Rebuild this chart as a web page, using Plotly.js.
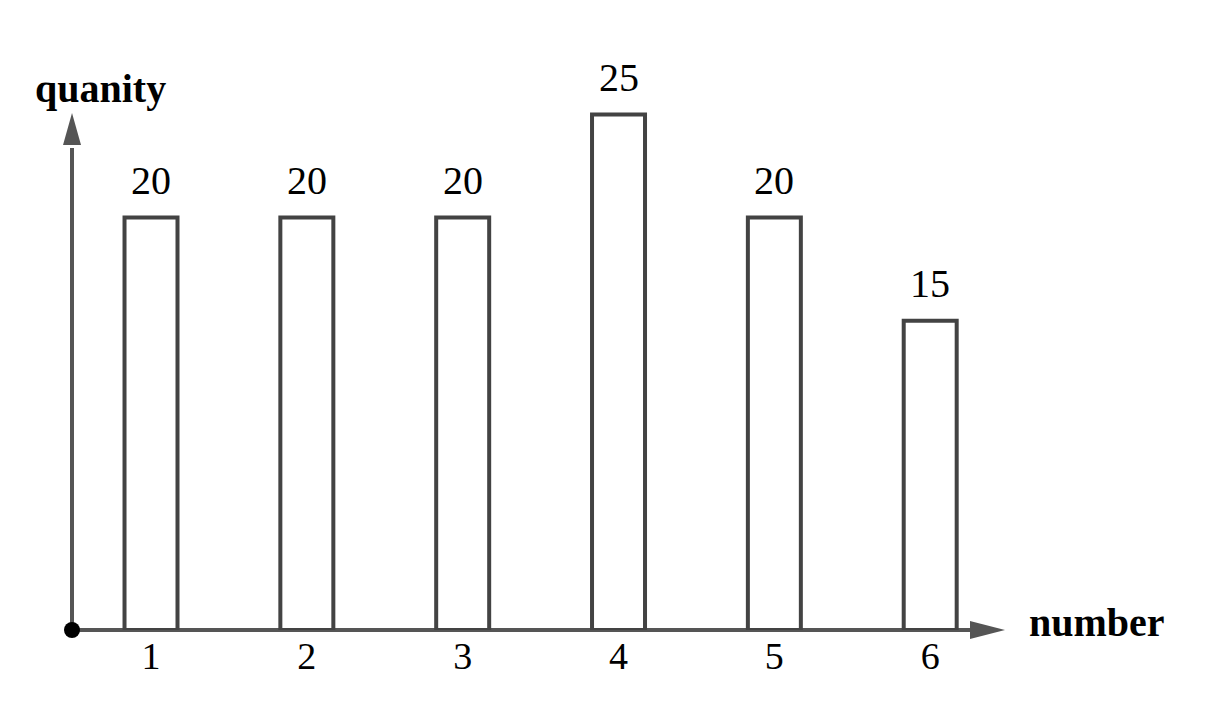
<!DOCTYPE html>
<html>
<head>
<meta charset="utf-8">
<script src="https://cdn.plot.ly/plotly-3.0.1.min.js"></script>
<style>html,body{margin:0;padding:0;background:#fff;}#chart{width:1216px;height:716px;}</style>
</head>
<body>
<div id="chart"></div>
<script>
var categories = [1, 2, 3, 4, 5, 6];
var tickLabels = ['1', '2', '3', '4', '5', '6'];
var quantities = [20, 20, 20, 25, 20, 15];
var xTitle = 'number';
var yTitle = 'quanity';

var FONT = 'Liberation Serif, DejaVu Serif, serif';
var W = 1216, H = 716;
var ml = 72, mr = 211, mt = 30, mb = 86;
var pw = W - ml - mr, ph = H - mt - mb;
function px(p) { return p / pw; }
function py(p) { return p / ph; }

var trace = {
  type: 'bar',
  x: categories,
  y: quantities,
  width: 0.34,
  marker: { color: 'rgba(255,255,255,0)', line: { color: '#434343', width: 4 } },
  hoverinfo: 'skip',
  cliponaxis: false
};

var annotations = categories.map(function (c, i) {
  return {
    x: c, y: quantities[i], xref: 'x', yref: 'y',
    text: String(quantities[i]), showarrow: false,
    yanchor: 'bottom', yshift: 13,
    font: { family: FONT, size: 40, color: '#000' }
  };
});
annotations.push({
  xref: 'paper', yref: 'paper', x: px(1097 - ml), y: py(630 - 622),
  text: xTitle, showarrow: false, xanchor: 'center', yanchor: 'middle',
  font: { family: FONT, size: 40, color: '#000', weight: 'bold' }
});
annotations.push({
  xref: 'paper', yref: 'paper', x: px(100 - ml), y: py(630 - 88),
  text: yTitle, showarrow: false, xanchor: 'center', yanchor: 'middle',
  font: { family: FONT, size: 40, color: '#000', weight: 'bold' }
});

var axisColor = '#555555';
var shapes = [
  { type: 'line', xref: 'paper', yref: 'paper', x0: 0, y0: 0, x1: px(975 - ml), y1: 0,
    line: { color: axisColor, width: 4 }, layer: 'below' },
  { type: 'path', xref: 'paper', yref: 'paper',
    path: 'M ' + px(970 - ml) + ' ' + py(9) + ' L ' + px(1005 - ml) + ' 0 L ' + px(970 - ml) + ' ' + (-py(9)) + ' Z',
    fillcolor: axisColor, line: { width: 0 }, layer: 'below' },
  { type: 'line', xref: 'paper', yref: 'paper', x0: 0, y0: 0, x1: 0, y1: py(630 - 148),
    line: { color: axisColor, width: 4 }, layer: 'below' },
  { type: 'path', xref: 'paper', yref: 'paper',
    path: 'M ' + (-px(9)) + ' ' + py(630 - 145) + ' L 0 ' + py(630 - 113) + ' L ' + px(9) + ' ' + py(630 - 145) + ' Z',
    fillcolor: axisColor, line: { width: 0 }, layer: 'below' },
  { type: 'circle', xref: 'paper', yref: 'paper',
    x0: -px(8), x1: px(8), y0: -py(8), y1: py(8),
    fillcolor: '#000', line: { width: 0 }, layer: 'above' }
];

var layout = {
  width: W, height: H,
  margin: { l: ml, r: mr, t: mt, b: mb, pad: 0 },
  paper_bgcolor: '#fff', plot_bgcolor: '#fff',
  showlegend: false,
  xaxis: {
    range: [0.493, 6.48], tickmode: 'array', tickvals: categories, ticktext: tickLabels,
    showgrid: false, zeroline: false, showline: false, ticks: '',
    tickfont: { family: FONT, size: 38, color: '#000' }, fixedrange: true
  },
  yaxis: {
    range: [0, 600 / 20.62], showgrid: false, zeroline: false, showline: false,
    showticklabels: false, ticks: '', fixedrange: true
  },
  annotations: annotations,
  shapes: shapes
};

Plotly.newPlot('chart', [trace], layout, { displayModeBar: false, staticPlot: true });
</script>
</body>
</html>
